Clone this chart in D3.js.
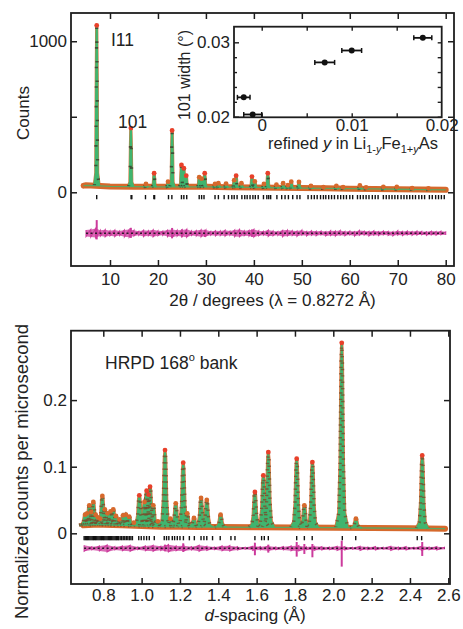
<!DOCTYPE html>
<html><head><meta charset="utf-8">
<script src="https://cdn.jsdelivr.net/npm/d3@7"></script>
<style>
body{margin:0;background:#fff;}
svg{display:block;font-family:"Liberation Sans",Arial,Helvetica,sans-serif;}
</style></head><body>
<svg id="c" width="463" height="629"></svg>
<script>
// ---------------- TOP PANEL DATA (synchrotron, I11) ----------------
const topXTicks = [10, 20, 30, 40, 50, 60, 70, 80];
const topYTicks = [0, 500, 1000];
const topYLabels = [0, 1000];
const topBgX = [4.5, 5, 6, 8, 10, 15, 20, 25, 30, 35, 40, 45, 50, 55, 60, 65, 70, 75, 80];
const topBgY = [44, 46, 45, 42, 39, 37, 36, 36, 36, 34, 32, 30, 28, 26, 24, 22, 20, 18, 16];
const topPeakPos = [7.23, 14.35, 17.5, 19.2, 22.1, 22.95, 24.9, 25.4, 25.9, 28.6, 29.1, 29.75, 31.9, 32.6, 34.2, 35.9, 36.3, 37.4, 39.6, 40.2, 42.1, 42.9, 44.7, 46.1, 47.1, 47.8, 49.4, 51.9, 54.5, 57.2, 58.6, 62.1, 63.4, 67.0, 69.8, 73.0, 76.4];
const topPeakTop = [1105, 425, 55, 126, 70, 409, 181, 159, 110, 100, 90, 126, 55, 60, 58, 80, 110, 60, 104, 72, 55, 126, 50, 60, 48, 70, 68, 42, 34, 42, 34, 45, 32, 36, 35, 28, 26];
const topRefl = [7.23, 14.4, 14.55, 17.4, 19.15, 19.3, 22.2, 22.9, 24.9, 25.4, 26.0, 28.6, 29.1, 29.6, 31.9, 32.6, 33.8, 34.7, 35.4, 35.9, 36.5, 37.5, 38.1, 38.6, 39.2, 39.8, 40.3, 40.9, 42.0, 42.7, 43.1, 43.5, 44.8, 45.8, 46.5, 47.2, 48.1, 49.0, 49.6, 51.3, 52.0, 52.6, 53.2, 53.9, 54.5, 55.0, 55.6, 56.2, 56.8, 57.5, 58.1, 58.7, 59.3, 60.0, 60.6, 61.6, 62.2, 62.8, 63.4, 64.0, 64.7, 65.3, 65.9, 67.0, 67.6, 68.2, 68.8, 69.4, 70.0, 70.7, 71.3, 71.9, 72.5, 73.1, 73.7, 74.4, 75.0, 75.6, 76.6, 77.2, 77.9, 78.5, 79.1, 79.7];
const topDiffOffset = -272;
const topDiffX = [5, 6, 7, 8, 9, 10, 11, 12, 13, 14,
  15, 16, 17, 18, 19, 20, 21, 22, 23, 24,
  25, 26, 27, 28, 29, 30, 31, 32, 33, 34,
  35, 36, 37, 38, 39, 40, 41, 42, 43, 44,
  45, 46, 47, 48, 49, 50, 51, 52, 53, 54,
  55, 56, 57, 58, 59, 60, 61, 62, 63, 64,
  65, 66, 67, 68, 69, 70, 71, 72, 73, 74,
  75, 76, 77, 78, 79, 80];
const topDiffHi = [-250, -246, -240, -252, -248, -255, -250, -256, -249, -247,
  -252, -258, -251, -254, -248, -255, -257, -250, -246, -252,
  -249, -245, -256, -253, -248, -250, -258, -254, -256, -251,
  -257, -249, -247, -255, -252, -246, -255, -258, -250, -256,
  -259, -252, -250, -254, -257, -251, -259, -255, -258, -256,
  -260, -254, -257, -253, -259, -256, -260, -253, -257, -259,
  -255, -260, -256, -258, -261, -254, -259, -257, -260, -256,
  -259, -261, -257, -260, -258, -262];
const topDiffLo = [-292, -296, -300, -290, -294, -288, -293, -286, -295, -297,
  -289, -285, -292, -288, -294, -287, -285, -292, -298, -290,
  -293, -297, -286, -289, -294, -291, -284, -288, -286, -290,
  -285, -292, -294, -287, -290, -296, -287, -284, -291, -288,
  -285, -293, -289, -286, -291, -284, -288, -285, -287, -283,
  -289, -286, -290, -284, -287, -283, -289, -285, -283, -288,
  -284, -286, -282, -285, -288, -283, -286, -282, -285, -283,
  -281, -285, -282, -284, -281, -283];
const topSpikeX = [7.23, 14.35, 22.95, 25.0, 29.8, 39.6];
const topSpikeLo = [-312, -302, -304, -298, -296, -295];
const topSpikeHi = [-184, -235, -236, -245, -248, -246];

// ---------------- INSET DATA ----------------
const insetXTicks = [0, 0.01, 0.02];
const insetYTicks = [0.02, 0.03];
const insetX = [-0.0020, -0.0010, 0.0070, 0.0100, 0.0179];
const insetY = [0.0226, 0.0203, 0.0273, 0.0289, 0.0306];
const insetXErr = [0.0007, 0.0010, 0.0011, 0.0011, 0.0010];

// ---------------- BOTTOM PANEL DATA (HRPD) ----------------
const botXTicks = [0.8, 1.0, 1.2, 1.4, 1.6, 1.8, 2.0, 2.2, 2.4, 2.6];
const botYTicks = [0, 0.1, 0.2];
const botBgX = [0.696, 0.75, 0.8, 0.9, 1.0, 1.1, 1.2, 1.3, 1.4, 1.6, 1.8, 2.0, 2.2, 2.4, 2.583];
const botBgY = [0.012, 0.013, 0.013, 0.012, 0.011, 0.010, 0.0098, 0.0095, 0.0095, 0.009, 0.0088, 0.0085, 0.008, 0.0075, 0.007];
const botPeakPos = [0.705, 0.716, 0.727, 0.737, 0.748, 0.760, 0.772, 0.784, 0.795, 0.808,
  0.822, 0.838, 0.852, 0.866, 0.884, 0.903, 0.918, 0.935, 0.960, 0.988,
  1.015, 1.026, 1.036, 1.044, 1.061, 1.085, 1.122, 1.150, 1.178, 1.217,
  1.238, 1.273, 1.310, 1.340, 1.412, 1.591, 1.635, 1.661, 1.809, 1.849,
  1.891, 2.044, 2.118, 2.464];
const botPeakTop = [0.028, 0.030, 0.042, 0.032, 0.047, 0.028, 0.024, 0.022, 0.056, 0.036,
  0.030, 0.033, 0.036, 0.026, 0.021, 0.027, 0.028, 0.025, 0.016, 0.057,
  0.047, 0.064, 0.058, 0.070, 0.042, 0.018, 0.125, 0.022, 0.045, 0.106,
  0.030, 0.023, 0.053, 0.050, 0.028, 0.062, 0.087, 0.122, 0.112, 0.042,
  0.107, 0.286, 0.022, 0.117];
const botRefl = [0.700, 0.706, 0.712, 0.718, 0.724, 0.730, 0.736, 0.742, 0.748, 0.754,
  0.760, 0.766, 0.772, 0.778, 0.784, 0.790, 0.796, 0.802, 0.808, 0.814,
  0.820, 0.826, 0.832, 0.838, 0.844, 0.850, 0.856, 0.862, 0.868, 0.874,
  0.880, 0.888, 0.896, 0.904, 0.912, 0.920, 0.928, 0.936, 0.944, 0.952,
  0.985, 0.998, 1.012, 1.026, 1.040, 1.066, 1.118, 1.130, 1.142, 1.160,
  1.172, 1.186, 1.200, 1.218, 1.249, 1.275, 1.310, 1.325, 1.340, 1.370,
  1.410, 1.466, 1.487, 1.591, 1.626, 1.640, 1.661, 1.809, 1.849, 1.890,
  2.047, 2.117, 2.438, 2.461];
const botDiffOffset = -0.0225;
const botDiffX = [0.70, 0.74, 0.78, 0.82, 0.86, 0.90, 0.94, 0.98, 1.02, 1.06,
  1.10, 1.14, 1.18, 1.22, 1.26, 1.30, 1.34, 1.38, 1.42, 1.46,
  1.50, 1.54, 1.58, 1.62, 1.66, 1.70, 1.74, 1.78, 1.82, 1.86,
  1.90, 1.94, 1.98, 2.02, 2.06, 2.10, 2.14, 2.18, 2.22, 2.26,
  2.30, 2.34, 2.38, 2.42, 2.46, 2.50, 2.54, 2.58];
const botDiffHi = [-0.018, -0.020, -0.019, -0.0175, -0.020, -0.019, -0.018, -0.0205, -0.019, -0.018,
  -0.0195, -0.017, -0.019, -0.0185, -0.020, -0.018, -0.0195, -0.0205, -0.019, -0.0185,
  -0.020, -0.021, -0.0195, -0.020, -0.019, -0.0205, -0.020, -0.019, -0.0185, -0.0205,
  -0.0195, -0.020, -0.0205, -0.0195, -0.020, -0.021, -0.0195, -0.0205, -0.020, -0.021,
  -0.0195, -0.0205, -0.020, -0.021, -0.0195, -0.0205, -0.020, -0.021];
const botDiffLo = [-0.027, -0.025, -0.0265, -0.028, -0.025, -0.026, -0.027, -0.0245, -0.026, -0.027,
  -0.0255, -0.028, -0.026, -0.0265, -0.025, -0.027, -0.0255, -0.0245, -0.026, -0.0265,
  -0.025, -0.024, -0.0255, -0.025, -0.026, -0.0245, -0.025, -0.026, -0.0265, -0.0245,
  -0.0255, -0.025, -0.0245, -0.0255, -0.025, -0.024, -0.0255, -0.0245, -0.025, -0.024,
  -0.0255, -0.0245, -0.025, -0.024, -0.0255, -0.0245, -0.025, -0.024];
const botSpikeX = [1.122, 1.217, 1.591, 1.661, 1.809, 1.849, 1.891, 2.044, 2.464];
const botSpikeLo = [-0.027, -0.028, -0.033, -0.029, -0.035, -0.031, -0.036, -0.050, -0.034];
const botSpikeHi = [-0.017, -0.015, -0.014, -0.017, -0.013, -0.016, -0.016, -0.011, -0.013];

// ---------------- DRAWING ----------------
const C = {green:"#40b56f", orange:"#d6692c", red:"#e8402a", mag:"#cc3a9c", frame:"#1e1e1e", text:"#222"};
const svg = d3.select("#c");
const FS = 17;

function axes(g, x, y, P, xt, yt, xf, yf, xpad){
  const st = sel => { sel.select(".domain").remove();
    sel.selectAll(".tick line").attr("stroke", C.frame).attr("stroke-width", 1.5);
    sel.selectAll("text").attr("font-size", FS).attr("fill", C.text); };
  g.append("g").attr("transform",`translate(0,${P.b})`)
    .call(d3.axisBottom(x).tickValues(xt).tickSizeInner(-6).tickSizeOuter(0).tickPadding(xpad).tickFormat(xf)).call(st);
  g.append("g").attr("transform",`translate(0,${P.t})`)
    .call(d3.axisTop(x).tickValues(xt).tickSizeInner(-6).tickSizeOuter(0).tickFormat("")).call(st);
  g.append("g").attr("transform",`translate(${P.l},0)`)
    .call(d3.axisLeft(y).tickValues(yt).tickSizeInner(-6).tickSizeOuter(0).tickPadding(4).tickFormat(yf)).call(st);
  g.append("g").attr("transform",`translate(${P.r},0)`)
    .call(d3.axisRight(y).tickValues(yt).tickSizeInner(-6).tickSizeOuter(0).tickFormat("")).call(st);
  g.append("rect").attr("x",P.l).attr("y",P.t).attr("width",P.r-P.l).attr("height",P.b-P.t)
    .attr("fill","none").attr("stroke",C.frame).attr("stroke-width",1.8);
}

function pattern(g, xs, ys, bgX, bgY, pos, tops, shape, o){
  const bg = d3.scaleLinear().domain(bgX).range(bgY);
  const ln = d3.line();
  const bandLine = d3.line().x(d=>xs(d[0])).y(d=>ys(d[1]));
  const bgPts = bgX.map((v,i)=>[v,bgY[i]]);
  g.append("path").attr("d", bandLine(bgPts)).attr("fill","none").attr("stroke",C.orange)
    .attr("stroke-width",o.band).attr("stroke-linecap","round").attr("stroke-linejoin","round");
  const shapes = pos.map((p,i)=>{ const b = bg(p); return shape.map(s=>[xs(p)+s[0], ys(b + s[1]*(tops[i]-b))]); });
  g.selectAll(null).data(shapes).join("path").attr("d", ln)
    .attr("fill", C.green).attr("stroke", C.orange).attr("stroke-width", o.osw).attr("stroke-linejoin","round").attr("opacity",0.9);
  g.selectAll(null).data(shapes).join("path").attr("d", ln)
    .attr("fill", C.green).attr("stroke", C.green).attr("stroke-width", o.sw).attr("stroke-linejoin","round");
  g.selectAll(null).data(shapes).join("path").attr("d", ln)
    .attr("fill","none").attr("stroke", o.mc).attr("stroke-width", o.mw).attr("stroke-dasharray", o.dash).attr("opacity",0.8);
  g.append("path").attr("d", bandLine(bgPts)).attr("fill","none").attr("stroke",C.green).attr("stroke-width",1.3).attr("opacity",0.8);
  // observed tops: red where the peak stands well clear of the background, orange otherwise
  g.selectAll(null).data(pos).join("circle").attr("cx", d=>xs(d)).attr("cy",(d,i)=>ys(tops[i]))
    .attr("r",o.r).attr("fill",(d,i)=> (ys(bg(d)) - ys(tops[i]) > o.redMin) ? C.red : C.orange);
}

function refl(g, xs, y0, vals){
  g.selectAll(null).data(vals).join("line").attr("x1",d=>xs(d)).attr("x2",d=>xs(d))
    .attr("y1",y0+2.7).attr("y2",y0+7).attr("stroke","#111").attr("stroke-width",1.4);
}

function diff(g, xs, ys, dx, lo, hi, off, sx, slo, shi){
  const area = d3.area().x(d=>xs(d[0])).y0(d=>ys(d[1])).y1(d=>ys(d[2]));
  g.append("path").attr("d", area(dx.map((v,i)=>[v,lo[i],hi[i]]))).attr("fill",C.mag).attr("opacity",0.75);
  const zz = d3.line().x(d=>xs(d[0])).y(d=>ys(d[1]));
  const pts = []; dx.forEach((v,i)=>{ pts.push([v, hi[i]]); pts.push([v, lo[i]]); });
  g.append("path").attr("d", zz(pts)).attr("fill","none").attr("stroke",C.mag).attr("stroke-width",1.1);
  g.selectAll(null).data(sx).join("line").attr("x1",d=>xs(d)).attr("x2",d=>xs(d))
    .attr("y1",(d,i)=>ys(slo[i])).attr("y2",(d,i)=>ys(shi[i])).attr("stroke",C.mag).attr("stroke-width",2);
  g.append("line").attr("x1",xs(dx[0])).attr("x2",xs(dx[dx.length-1])).attr("y1",ys(off)).attr("y2",ys(off))
    .attr("stroke","#2a1a2a").attr("stroke-width",1.5).attr("stroke-dasharray","2 2.5");
}

// ---- TOP ----
const T = {l:71, r:454, t:13, b:266};
const xT = d3.scaleLinear().domain([1.868, 81.73]).range([T.l, T.r]);
const yT = d3.scaleLinear().domain([-488, 1187]).range([T.b, T.t]);
svg.append("clipPath").attr("id","cT").append("rect").attr("x",T.l).attr("y",T.t).attr("width",T.r-T.l).attr("height",T.b-T.t);
const gT = svg.append("g").attr("clip-path","url(#cT)");
pattern(gT, xT, yT, topBgX, topBgY, topPeakPos, topPeakTop,
  [[-2.4,0],[-0.9,0.08],[-0.4,0.7],[0,1],[0.4,0.7],[0.9,0.08],[2.4,0]],
  {band:6, sw:2.2, osw:3.2, mc:"#3a3a2a", mw:3.2, dash:"1.6 18", r:2.4, redMin:10});
refl(gT, xT, yT(0), topRefl);
diff(gT, xT, yT, topDiffX, topDiffLo, topDiffHi, topDiffOffset, topSpikeX, topSpikeLo, topSpikeHi);
axes(svg, xT, yT, T, topXTicks, topYTicks, d3.format("d"), d => topYLabels.includes(d) ? String(d) : "", 7);

svg.append("text").attr("x",111).attr("y",45.5).attr("font-size",17.5).attr("fill",C.text).text("I11");
svg.append("text").attr("x",118).attr("y",127.5).attr("font-size",17.5).attr("fill",C.text).text("101");
svg.append("text").attr("transform","translate(29,113) rotate(-90)").attr("text-anchor","middle")
  .attr("font-size",FS).attr("fill",C.text).text("Counts");
svg.append("text").attr("x",272.5).attr("y",306).attr("text-anchor","middle").attr("font-size",FS).attr("fill",C.text)
  .text("2\u03b8 / degrees (\u03bb = 0.8272 \u00c5)");

// ---- INSET ----
const I = {l:234, r:441.7, t:26.7, b:117.3};
const xI = d3.scaleLinear().domain([-0.00308, 0.02]).range([I.l, I.r]);
const yI = d3.scaleLinear().domain([0.01992, 0.0321]).range([I.b, I.t]);
svg.append("rect").attr("x",I.l).attr("y",I.t).attr("width",I.r-I.l).attr("height",I.b-I.t).attr("fill","#fff");
const gI = svg.append("g");
const stI = sel => { sel.select(".domain").remove();
  sel.selectAll(".tick line").attr("stroke",C.frame).attr("stroke-width",1.4);
  sel.selectAll("text").attr("font-size",FS).attr("fill",C.text); };
const insetMinorX = [0, 0.005, 0.01, 0.015];
const insetMinorY = [0.022, 0.024, 0.026, 0.028];
gI.append("g").attr("transform",`translate(0,${I.b})`).call(d3.axisBottom(xI).tickValues(insetXTicks).tickSize(0).tickPadding(2).tickFormat(d=>d===0?"0":d3.format(".2f")(d))).call(stI);
gI.append("g").attr("transform",`translate(0,${I.b})`).call(d3.axisBottom(xI).tickValues(insetMinorX).tickSizeInner(-4).tickSizeOuter(0).tickFormat("")).call(stI);
gI.append("g").attr("transform",`translate(0,${I.t})`).call(d3.axisTop(xI).tickValues(insetMinorX).tickSizeInner(-4).tickSizeOuter(0).tickFormat("")).call(stI);
gI.append("g").attr("transform",`translate(${I.l},0)`).call(d3.axisLeft(yI).tickValues(insetYTicks).tickSizeInner(-5).tickSizeOuter(0).tickPadding(4).tickFormat(d3.format(".2f"))).call(stI);
gI.append("g").attr("transform",`translate(${I.l},0)`).call(d3.axisLeft(yI).tickValues(insetMinorY).tickSizeInner(-3).tickSizeOuter(0).tickFormat("")).call(stI);
gI.append("g").attr("transform",`translate(${I.r},0)`).call(d3.axisRight(yI).tickValues(insetYTicks.concat(insetMinorY)).tickSizeInner(-4).tickSizeOuter(0).tickFormat("")).call(stI);
gI.append("rect").attr("x",I.l).attr("y",I.t).attr("width",I.r-I.l).attr("height",I.b-I.t).attr("fill","none").attr("stroke",C.frame).attr("stroke-width",1.8);
const ptsI = insetX.map((v,i)=>({x:v, y:insetY[i], e:insetXErr[i]}));
gI.selectAll(null).data(ptsI).join("line").attr("x1",d=>xI(d.x-d.e)).attr("x2",d=>xI(d.x+d.e)).attr("y1",d=>yI(d.y)).attr("y2",d=>yI(d.y)).attr("stroke","#111").attr("stroke-width",1.8);
gI.selectAll(null).data(ptsI).join("line").attr("x1",d=>xI(d.x-d.e)).attr("x2",d=>xI(d.x-d.e)).attr("y1",d=>yI(d.y)-2.5).attr("y2",d=>yI(d.y)+2.5).attr("stroke","#111").attr("stroke-width",1.5);
gI.selectAll(null).data(ptsI).join("line").attr("x1",d=>xI(d.x+d.e)).attr("x2",d=>xI(d.x+d.e)).attr("y1",d=>yI(d.y)-2.5).attr("y2",d=>yI(d.y)+2.5).attr("stroke","#111").attr("stroke-width",1.5);
gI.selectAll(null).data(ptsI).join("circle").attr("cx",d=>xI(d.x)).attr("cy",d=>yI(d.y)).attr("r",3).attr("fill","#111");
svg.append("text").attr("transform","translate(190,75) rotate(-90)").attr("text-anchor","middle").attr("font-size",16).attr("fill",C.text).text("101 width (\u00b0)");
const lx = svg.append("text").attr("x",353).attr("y",149).attr("text-anchor","middle").attr("font-size",16.5).attr("fill",C.text);
lx.append("tspan").text("refined ");
lx.append("tspan").attr("font-style","italic").text("y");
lx.append("tspan").text(" in Li");
lx.append("tspan").attr("font-size",11).attr("dy",4).text("1-");
lx.append("tspan").attr("font-size",11).attr("font-style","italic").text("y");
lx.append("tspan").attr("dy",-4).text("Fe");
lx.append("tspan").attr("font-size",11).attr("dy",4).text("1+");
lx.append("tspan").attr("font-size",11).attr("font-style","italic").text("y");
lx.append("tspan").attr("dy",-4).text("As");

// ---- BOTTOM ----
const B = {l:71, r:450, t:330.7, b:584};
const xB = d3.scaleLinear().domain([0.6315, 2.6089]).range([B.l, B.r]);
const yB = d3.scaleLinear().domain([-0.0761, 0.3042]).range([B.b, B.t]);
svg.append("clipPath").attr("id","cB").append("rect").attr("x",B.l).attr("y",B.t).attr("width",B.r-B.l).attr("height",B.b-B.t);
const gB = svg.append("g").attr("clip-path","url(#cB)");
pattern(gB, xB, yB, botBgX, botBgY, botPeakPos, botPeakTop,
  [[-6,0],[-3,0.08],[-1.7,0.35],[-0.7,0.9],[0,1],[0.7,0.9],[1.7,0.35],[3,0.08],[6,0]],
  {band:6, sw:1.6, osw:3.2, mc:"#7a4a2a", mw:3.4, dash:"1.4 5", r:2.4, redMin:30});
refl(gB, xB, yB(0), botRefl);
diff(gB, xB, yB, botDiffX, botDiffLo, botDiffHi, botDiffOffset, botSpikeX, botSpikeLo, botSpikeHi);
axes(svg, xB, yB, B, botXTicks, botYTicks, d3.format(".1f"), d=>d===0?"0":d3.format(".1f")(d), 5);

const hl = svg.append("text").attr("x",105).attr("y",369).attr("font-size",17.5).attr("fill",C.text);
hl.append("tspan").text("HRPD 168");
hl.append("tspan").attr("font-size",11).attr("dy",-8).text("o");
hl.append("tspan").attr("dy",8).text(" bank");
svg.append("text").attr("transform","translate(28,471.5) rotate(-90)").attr("text-anchor","middle")
  .attr("font-size",18.5).attr("fill",C.text).text("Normalized counts per microsecond");
const dl = svg.append("text").attr("x",255).attr("y",621).attr("text-anchor","middle").attr("font-size",FS).attr("fill",C.text);
dl.append("tspan").attr("font-style","italic").text("d");
dl.append("tspan").text("-spacing (\u00c5)");
</script>
</body></html>
